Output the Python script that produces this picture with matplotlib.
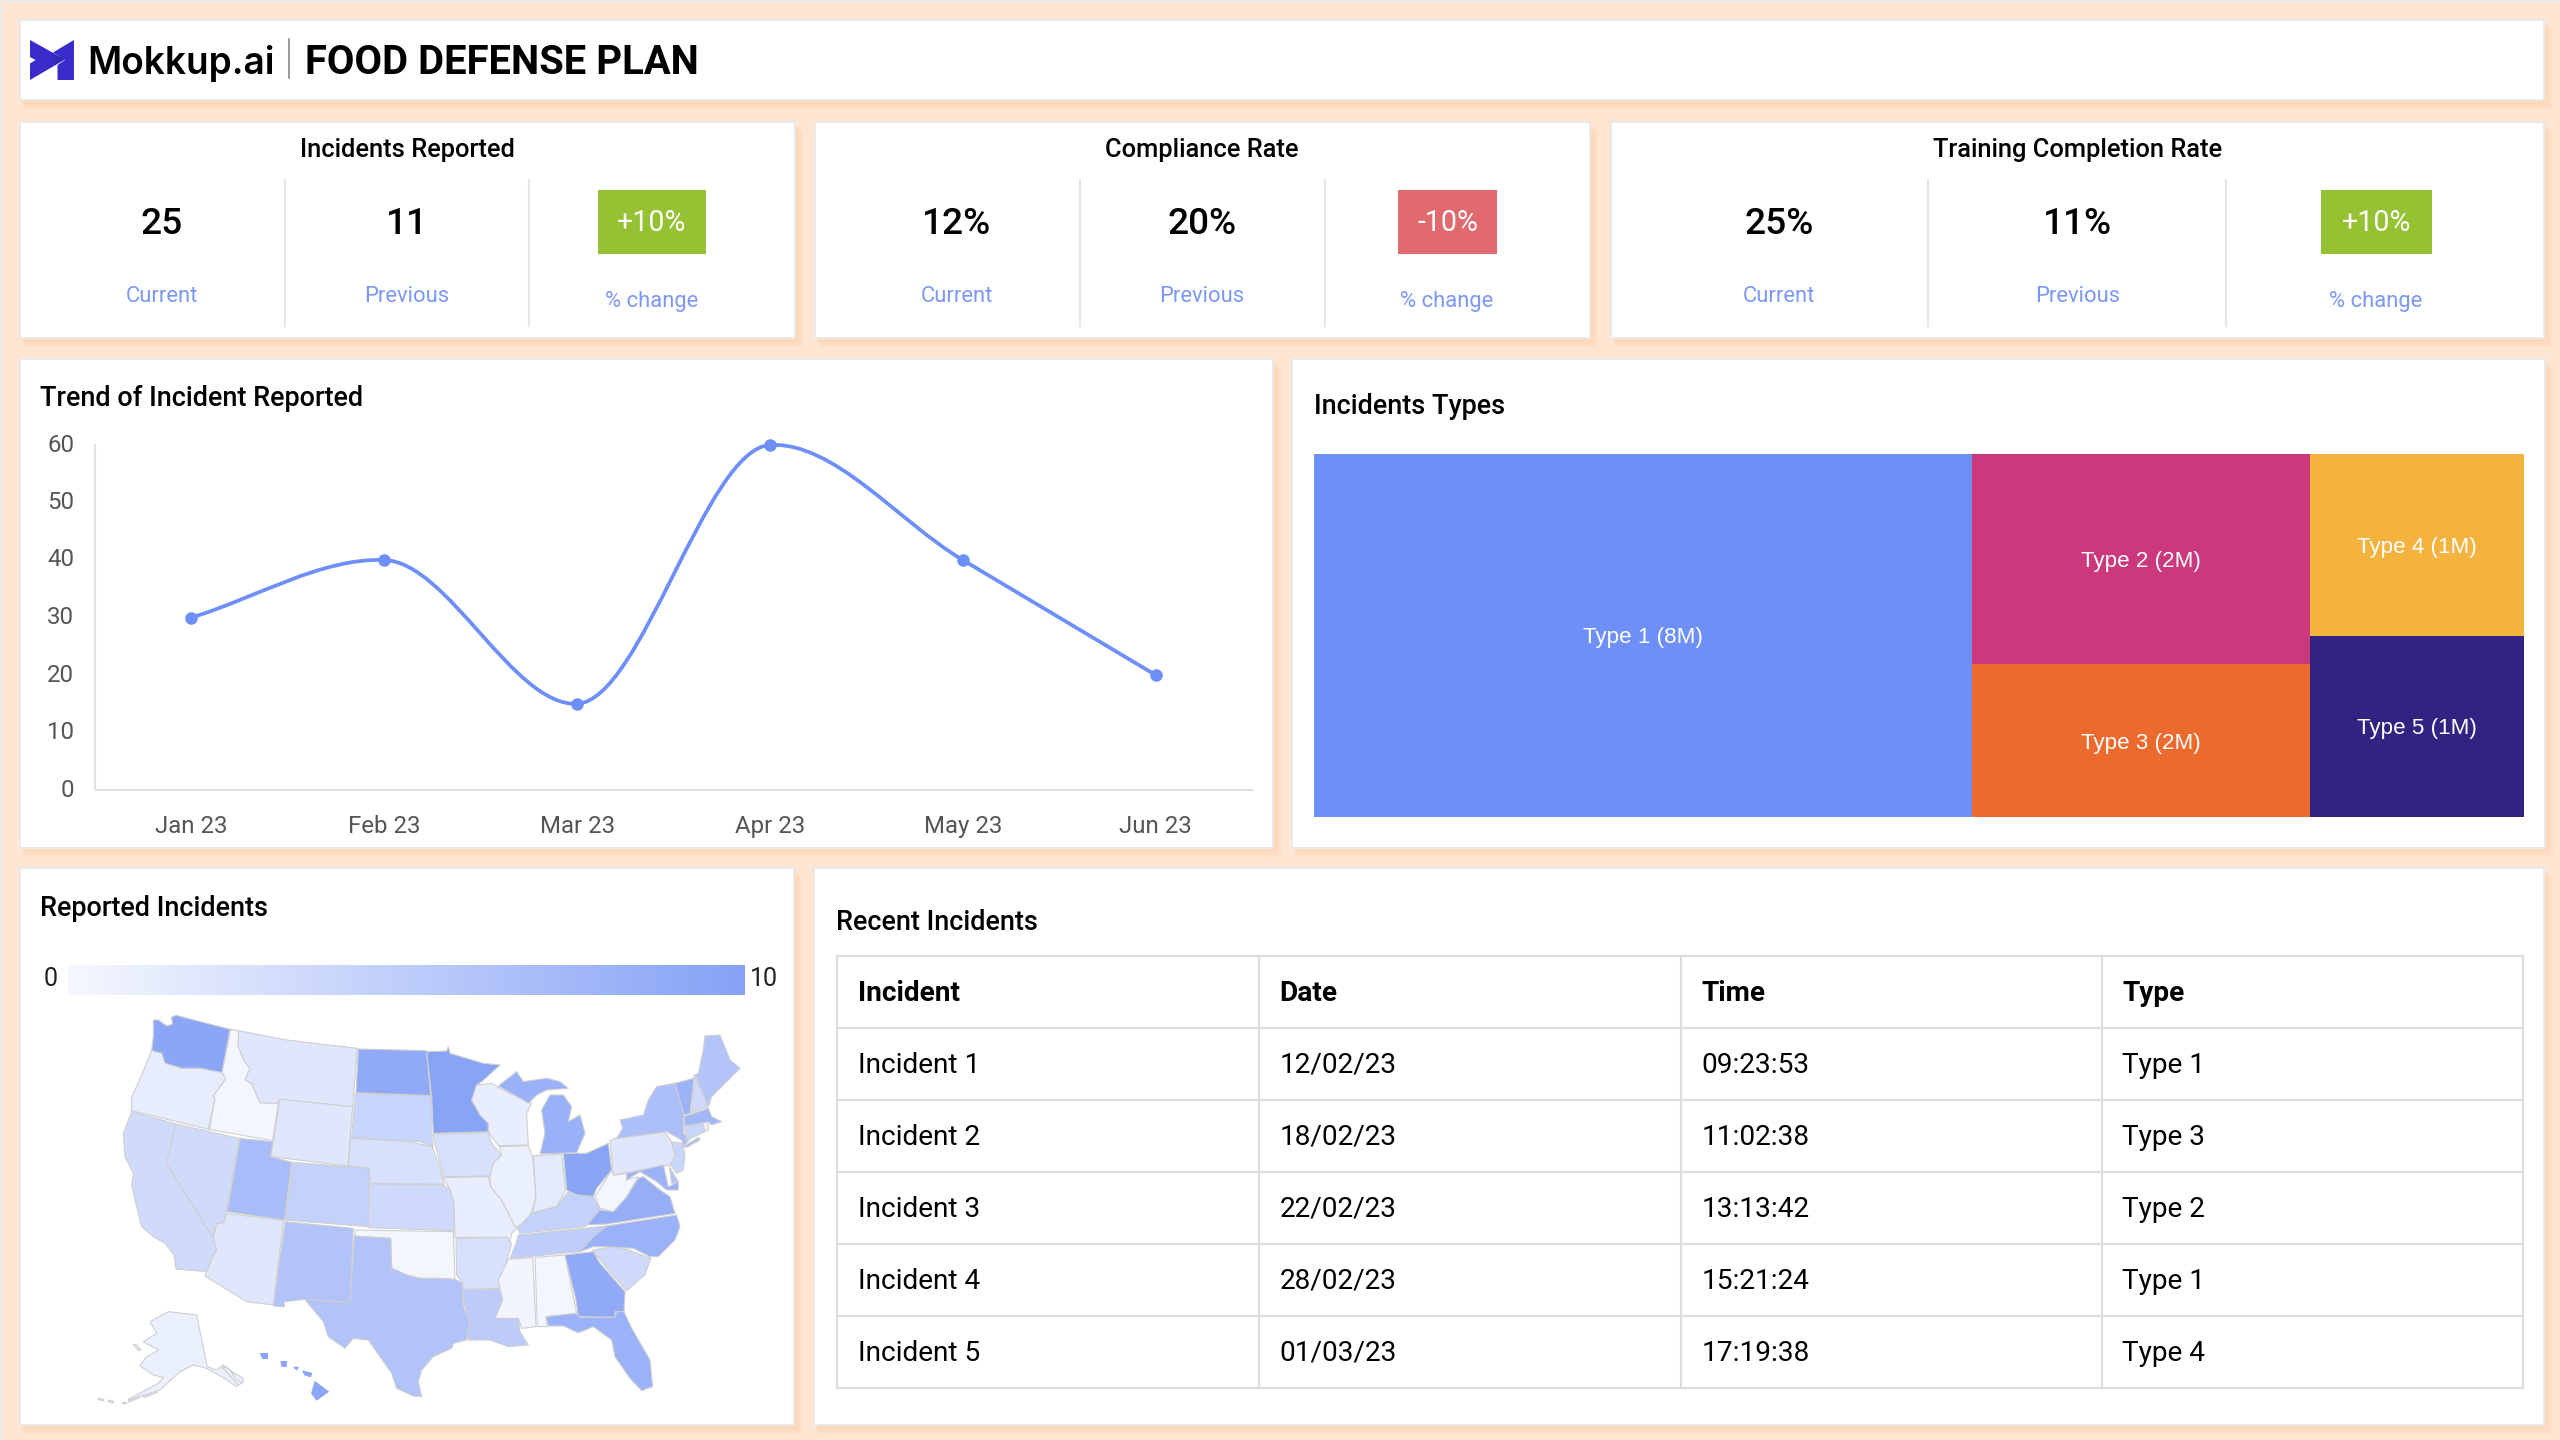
"""Food defense plan dashboard: KPI cards, trend line, treemap, state map and incident table."""
import numpy as np
import matplotlib
matplotlib.use("Agg")
import matplotlib.pyplot as plt
from matplotlib.colors import LinearSegmentedColormap
from matplotlib.patches import PathPatch, Polygon, Rectangle
from matplotlib.path import Path

plt.rcParams["font.family"] = ["Roboto", "DejaVu Sans"]

W, H = 2560, 1440
PAGE = "#FEE6D3"
SHADOW = "#FFCFAB"
BORDER = "#E9E9E9"
BLUE = "#6D8FF7"
LABEL_BLUE = "#7C98F6"
GREEN = "#95C133"
RED = "#E06A6E"
GRID = "#DDDDDD"

# KPI cards
KPI_TITLES = ["Incidents Reported", "Compliance Rate", "Training Completion Rate"]
KPI_CURRENT = ["25", "12%", "25%"]
KPI_PREVIOUS = ["11", "20%", "11%"]
KPI_CHANGE = ["+10%", "-10%", "+10%"]

# trend line
MONTHS = ["Jan 23", "Feb 23", "Mar 23", "Apr 23", "May 23", "Jun 23"]
INCIDENTS = [30, 40, 15, 60, 40, 20]

# treemap
TYPE_NAMES = ["Type 1", "Type 2", "Type 3", "Type 4", "Type 5"]
TYPE_SIZES = [8.0, 2.38, 1.73, 1.30, 1.30]
TYPE_COLORS = ["#6D8FF7", "#CB387C", "#EC6A2D", "#F4B33F", "#302381"]

# table
TABLE_HEADER = ["Incident", "Date", "Time", "Type"]
TABLE_INCIDENT = ["Incident 1", "Incident 2", "Incident 3", "Incident 4", "Incident 5"]
TABLE_DATE = ["12/02/23", "18/02/23", "22/02/23", "28/02/23", "01/03/23"]
TABLE_TIME = ["09:23:53", "11:02:38", "13:13:42", "15:21:24", "17:19:38"]
TABLE_TYPE = ["Type 1", "Type 3", "Type 2", "Type 1", "Type 4"]

# map values, 0 to 10
STATE_VALUES = {
    "WA": 9.5, "OR": 1.3, "ID": 0.3, "MT": 2.0, "WY": 2.0, "ND": 9.0, "SD": 4.2, "NE": 2.8, "CO": 4.5,
    "KS": 3.6, "UT": 7.0, "NV": 3.4, "CA": 3.4, "AZ": 2.0, "NM": 6.2, "OK": 0.3, "TX": 6.2, "MN": 9.8,
    "IA": 2.8, "MO": 1.2, "AR": 2.8, "LA": 5.2, "WI": 1.2, "IL": 1.0, "IN": 1.6, "OH": 9.6, "MIL": 8.3,
    "MIU": 8.3, "KY": 4.5, "TN": 5.0, "MS": 0.4, "AL": 0.3, "GA": 9.0, "FL": 8.2, "SC": 3.6, "NC": 8.2,
    "VA": 8.6, "WV": 0.3, "PA": 2.0, "NY": 6.6, "LI": 6.6, "MD": 8.0, "NJ": 4.0, "DE": 6.0, "CT": 4.0,
    "RI": 1.0, "MA": 7.5, "VT": 8.0, "NH": 3.6, "ME": 6.0, "AK": 1.0, "AKI": 1.0, "AK1": 1.0, "AK2": 1.0,
    "AK3": 1.0, "AK4": 1.0, "AK5": 1.0, "AK6": 1.0, "AK7": 1.0,
    "HI1": 9.5, "HI2": 9.5, "HI3": 9.5, "HI4": 9.5, "HI5": 9.5,
}

# state outlines in third-of-a-pixel units from the map origin
STATE_OUTLINES = {
    "WA": [(160,60),(175,60),(200,78),(218,72),(214,52),(228,46),(390,88),(366,218),(300,205),(245,205),(195,190),(185,160),(155,152),(160,110)],
    "OR": [(155,152),(185,160),(195,190),(245,205),(300,205),(366,218),(378,235),(340,288),(345,295),(325,388),(95,332),(95,292),(125,225)],
    "ID": [(392,88),(418,92),(414,135),(430,180),(450,205),(435,240),(455,250),(480,308),(535,310),(518,422),(328,388),(345,295),(340,288),(378,235),(366,218)],
    "MT": [(416,92),(560,120),(772,145),(758,320),(540,298),(532,310),(480,308),(455,250),(435,240),(450,205),(430,180),(414,135)],
    "WY": [(540,298),(758,320),(744,498),(512,470)],
    "ND": [(775,147),(980,152),(992,287),(768,278)],
    "SD": [(766,280),(995,288),(995,415),(1000,440),(960,425),(925,424),(755,413)],
    "NE": [(752,415),(925,424),(950,430),(997,440),(1015,490),(1032,553),(810,550),(808,505),(745,498)],
    "CO": [(578,487),(808,505),(805,680),(555,660)],
    "KS": [(808,552),(1030,555),(1050,570),(1062,605),(1062,692),(805,683)],
    "UT": [(420,415),(518,425),(512,470),(575,487),(553,660),(382,635)],
    "NV": [(228,372),(418,415),(378,640),(372,665),(345,672),(340,715),(198,490)],
    "CA": [(95,335),(228,372),(198,490),(340,715),(352,750),(335,770),(322,815),(228,807),(222,765),(195,730),(160,710),(125,680),(105,600),(95,555),(100,520),(75,470),(70,400)],
    "AZ": [(380,640),(550,662),(520,915),(440,905),(315,828),(330,790),(350,750),(340,710),(350,672),(372,668)],
    "NM": [(555,665),(760,685),(750,908),(615,898),(553,905),(553,920),(520,918)],
    "OK": [(765,690),(1060,695),(1065,838),(1010,835),(960,835),(920,825),(875,805),(872,715),(765,708)],
    "TX": [(763,708),(872,715),(875,805),(920,825),(960,835),(1010,835),(1065,838),(1088,850),(1090,920),(1110,970),(1100,1020),(1060,1030),(1055,1045),(1000,1070),(965,1110),(955,1145),(965,1190),(940,1188),(890,1165),(875,1120),(840,1070),(805,1020),(760,1015),(735,1045),(685,1010),(670,965),(620,905),(615,898),(750,908)],
    "MN": [(980,155),(1040,153),(1045,140),(1050,160),(1100,175),(1150,190),(1200,195),(1145,245),(1130,255),(1115,300),(1140,345),(1165,370),(1165,395),(1000,400),(995,290)],
    "IA": [(997,403),(1165,397),(1175,430),(1205,465),(1180,490),(1180,528),(1030,530),(1015,470)],
    "MO": [(1030,533),(1165,530),(1172,560),(1205,600),(1220,630),(1250,685),(1235,700),(1230,725),(1222,712),(1065,712),(1062,605),(1050,570)],
    "AR": [(1068,715),(1220,712),(1235,732),(1195,865),(1090,868),(1088,850),(1070,825)],
    "LA": [(1090,870),(1198,868),(1208,900),(1185,955),(1255,955),(1260,995),(1285,1035),(1225,1040),(1170,1020),(1105,1020),(1108,965),(1092,910)],
    "WI": [(1130,255),(1175,250),(1195,262),(1270,300),(1295,310),(1280,340),(1285,435),(1195,437),(1165,395),(1165,370),(1140,345),(1115,300)],
    "IL": [(1198,440),(1285,437),(1298,470),(1308,590),(1295,635),(1270,675),(1245,680),(1220,630),(1205,600),(1172,560),(1170,530),(1180,490),(1205,465)],
    "IN": [(1300,468),(1385,462),(1397,570),(1370,620),(1330,630),(1298,638),(1308,590)],
    "OH": [(1390,460),(1460,460),(1525,430),(1535,510),(1490,565),(1480,590),(1430,585),(1400,570)],
    "MIL": [(1320,462),(1335,400),(1325,330),(1350,285),(1390,285),(1415,320),(1405,365),(1440,345),(1455,400),(1430,458)],
    "MIU": [(1195,258),(1250,215),(1270,245),(1340,235),(1380,245),(1405,265),(1340,270),(1310,285),(1285,310),(1270,300)],
    "KY": [(1405,575),(1430,585),(1480,590),(1500,630),(1455,680),(1260,700),(1252,685),(1295,640),(1330,630),(1370,620)],
    "TN": [(1255,705),(1520,678),(1475,715),(1440,755),(1230,775),(1250,725)],
    "MS": [(1225,778),(1298,772),(1308,980),(1265,985),(1255,955),(1185,955),(1208,900),(1195,840)],
    "AL": [(1305,772),(1395,765),(1430,940),(1338,950),(1342,980),(1312,980)],
    "GA": [(1395,765),(1480,755),(1500,790),(1575,875),(1572,935),(1545,935),(1545,952),(1435,950),(1428,900)],
    "FL": [(1338,950),(1430,940),(1440,952),(1545,952),(1550,935),(1572,935),(1595,985),(1650,1080),(1658,1160),(1625,1172),(1590,1135),(1545,1070),(1535,1020),(1480,980),(1435,998),(1390,978),(1345,978)],
    "SC": [(1478,750),(1540,740),(1580,748),(1652,775),(1635,825),(1580,872),(1520,805)],
    "NC": [(1520,678),(1730,645),(1740,680),(1725,720),(1675,770),(1650,770),(1600,745),(1520,740),(1480,740),(1440,755),(1475,715)],
    "VA": [(1460,675),(1500,630),(1540,635),(1580,590),(1615,535),(1630,530),(1680,570),(1710,590),(1725,640),(1520,672)],
    "WV": [(1485,590),(1535,510),(1540,525),(1580,520),(1580,540),(1615,530),(1580,590),(1540,635),(1500,625)],
    "PA": [(1530,422),(1545,415),(1695,397),(1715,425),(1725,470),(1710,495),(1540,525)],
    "NY": [(1550,415),(1568,385),(1560,360),(1630,345),(1645,300),(1670,260),(1725,250),(1750,320),(1752,405),(1780,405),(1750,440),(1745,420),(1700,395)],
    "LI": [(1750,440),(1795,412),(1800,420),(1760,442)],
    "MD": [(1580,520),(1690,495),(1705,560),(1735,545),(1735,570),(1700,570),(1670,545),(1620,515),(1580,540)],
    "NJ": [(1715,425),(1745,430),(1755,460),(1750,510),(1730,520),(1712,495),(1725,465)],
    "DE": [(1708,500),(1735,545),(1715,550)],
    "CT": [(1755,378),(1808,368),(1815,395),(1760,420)],
    "RI": [(1808,368),(1825,365),(1825,390),(1815,395)],
    "MA": [(1752,350),(1825,325),(1835,350),(1865,365),(1835,375),(1825,365),(1755,378)],
    "VT": [(1725,250),(1782,235),(1770,340),(1752,345)],
    "NH": [(1782,225),(1825,320),(1775,338)],
    "ME": [(1795,220),(1810,150),(1815,108),(1860,105),(1890,180),(1920,205),(1870,255),(1835,290),(1825,320),(1785,225)],
    "AK": [(150,965),(205,935),(290,945),(322,1100),(350,1110),(370,1095),(430,1140),(410,1160),(365,1130),(320,1105),(280,1095),(240,1115),(180,1170),(90,1200),(85,1198),(175,1150),(190,1132),(160,1125),(120,1098),(135,1075),(175,1050),(130,1025),(170,1000)],
    "AKI": [(100,1035),(108,1033),(122,1048),(116,1052)],
    "AK1": [(-5,1195),(10,1198),(10,1202),(-5,1199)],
    "AK2": [(25,1200),(40,1204),(40,1209),(25,1205)],
    "AK3": [(65,1205),(78,1205),(78,1208),(65,1208)],
    "AK4": [(85,1202),(115,1190),(117,1194),(87,1206)],
    "AK5": [(130,1188),(170,1173),(172,1178),(133,1192)],
    "AK6": [(365,1100),(385,1105),(425,1150),(415,1155)],
    "AK7": [(395,1115),(430,1135),(428,1150),(405,1135)],
    "HI1": [(480,1060),(500,1060),(500,1073),(485,1073)],
    "HI2": [(543,1085),(560,1085),(558,1100),(545,1098)],
    "HI3": [(582,1102),(595,1102),(590,1110)],
    "HI4": [(608,1113),(635,1120),(632,1130),(615,1125)],
    "HI5": [(645,1145),(685,1175),(650,1200),(635,1180)],
}
MAP_ORIGIN = (100, 1000)

fig = plt.figure(figsize=(W / 100, H / 100), dpi=100, facecolor=PAGE)
canvas = fig.add_axes([0, 0, 1, 1])
canvas.set_xlim(0, W)
canvas.set_ylim(H, 0)
canvas.axis("off")


def px(size):
    return size * 0.72


def px_axes(x0, y0, x1, y1):
    ax = fig.add_axes([x0 / W, 1 - y1 / H, (x1 - x0) / W, (y1 - y0) / H])
    ax.patch.set_alpha(0)
    return ax


def card(x0, y0, x1, y1):
    # soft orange shadow, stacked from wide to narrow
    for off, alpha in ((9, 0.22), (7, 0.28), (4, 0.32)):
        canvas.add_patch(Rectangle((x0 + off // 2, y0 + off), x1 - x0 + off // 2, y1 - y0, fc=SHADOW, ec="none", alpha=alpha, zorder=1))
    canvas.add_patch(Rectangle((x0, y0), x1 - x0, y1 - y0, fc="white", ec=BORDER, lw=1.4, zorder=2))


def label(x, y, s, size, color="black", ha="center", weight="normal", **kw):
    canvas.text(x, y, s, fontsize=px(size), color=color, ha=ha, va="center_baseline", fontweight=weight, zorder=5, **kw)


canvas.plot([0, W], [1, 1], color=BORDER, lw=1.5, zorder=0)
canvas.plot([1, 1], [0, H], color=BORDER, lw=1.5, zorder=0)

# header
card(20, 20, 2544, 100)
logo = px_axes(30, 40, 74, 80)
logo.axis("off")
logo_cmap = LinearSegmentedColormap.from_list("logo", ["#3A2BCB", "#3A2BCB", "#1D2A7C"])
for pts in ([(30, 40), (65, 59.5), (30, 80), (30, 63.5), (35.5, 60), (30, 57)],
            [(74, 40), (74, 80), (57.5, 80), (57.5, 65), (65, 60), (53, 52.5)]):
    clip = Polygon(pts, closed=True, transform=canvas.transData, fc="none", ec="none")
    canvas.add_patch(clip)
    img = logo.imshow(np.linspace(0, 1, 64).reshape(1, -1) if pts[0][0] == 30 else np.zeros((1, 2)),
                      cmap=logo_cmap, vmin=0, vmax=1, aspect="auto", extent=(0, 1, 0, 1))
    img.set_clip_path(clip)
label(87, 60, "Mokkup.ai", 37, ha="left", weight="semibold", family=["Inter", "DejaVu Sans"])
canvas.plot([289, 289], [39, 78], color="#8A8A8A", lw=1.2, zorder=5)
label(305, 59, "FOOD DEFENSE PLAN", 40, ha="left", weight="bold")

# KPI row
card_bounds = [(20, 795), (815, 1590), (1611, 2544)]
col_centers = [(162, 407, 652), (957, 1202, 1447), (1779, 2078, 2376)]
dividers = [(285, 529), (1080, 1325), (1928, 2226)]
badge_bounds = [(598, 706), (1398, 1497), (2321, 2432)]
for i in range(3):
    card(card_bounds[i][0], 122, card_bounds[i][1], 338)
    c0, c1, c2 = col_centers[i]
    label(c1, 148, KPI_TITLES[i], 25.5, weight="medium")
    label(c0, 221, KPI_CURRENT[i], 37, weight="medium")
    label(c1, 221, KPI_PREVIOUS[i], 37, weight="medium")
    label(c0, 294, "Current", 22, color=LABEL_BLUE)
    label(c1, 294, "Previous", 22, color=LABEL_BLUE)
    label(c2, 298.5, "% change", 22, color=LABEL_BLUE)
    for d in dividers[i]:
        canvas.plot([d, d], [180, 326], color="#E6E6E6", lw=1.5, zorder=5)
    bx0, bx1 = badge_bounds[i]
    badge = GREEN if KPI_CHANGE[i].startswith("+") else RED
    canvas.add_patch(Rectangle((bx0, 190), bx1 - bx0, 64, fc=badge, ec="none", zorder=4))
    label((bx0 + bx1) / 2, 220, KPI_CHANGE[i], 28.5, color="white")

# trend chart
card(20, 359, 1273, 848)
label(40, 395, "Trend of Incident Reported", 27, ha="left", weight="medium")
line_ax = px_axes(95, 445, 1252, 790)
xs = np.arange(len(INCIDENTS), dtype=float)
ys = np.array(INCIDENTS, dtype=float)
# bezier tangents, flattened at the local peaks and troughs
tang = np.zeros(len(ys))
tang[0] = ys[1] - ys[0]
tang[-1] = ys[-1] - ys[-2]
for k in range(1, len(ys) - 1):
    tang[k] = (ys[k + 1] - ys[k - 1]) / 2
    if (ys[k] - ys[k - 1]) * (ys[k + 1] - ys[k]) < 0:
        tang[k] *= 0.15
verts = [(xs[0], ys[0])]
codes = [Path.MOVETO]
for k in range(len(ys) - 1):
    verts += [(xs[k] + 1 / 3, ys[k] + tang[k] / 3), (xs[k + 1] - 1 / 3, ys[k + 1] - tang[k + 1] / 3), (xs[k + 1], ys[k + 1])]
    codes += [Path.CURVE4] * 3
line_ax.add_patch(PathPatch(Path(verts, codes), fc="none", ec=BLUE, lw=2.7, capstyle="round", clip_on=False))
line_ax.plot(xs, ys, ls="none", marker="o", ms=8, color=BLUE, clip_on=False)
line_ax.set_xlim(-0.5, 5.5)
line_ax.set_ylim(0, 60)
line_ax.set_xticks(xs)
line_ax.set_xticklabels(MONTHS)
line_ax.set_yticks(range(0, 61, 10))
line_ax.tick_params(axis="x", length=0, pad=18, labelsize=px(24), labelcolor="#555555")
line_ax.tick_params(axis="y", length=0, pad=15, labelsize=px(24), labelcolor="#555555")
for t in line_ax.get_yticklabels():
    t.set_va("center")
for side in ("top", "right"):
    line_ax.spines[side].set_visible(False)
for side in ("left", "bottom"):
    line_ax.spines[side].set_color("#E2E2E2")
    line_ax.spines[side].set_linewidth(1.5)

# treemap
card(1292, 359, 2545, 848)
label(1314, 404, "Incidents Types", 27, ha="left", weight="medium")
tree = px_axes(1314, 454, 2524, 817)
tree.axis("off")
tree.set_xlim(0, 1)
tree.set_ylim(1, 0)
total = sum(TYPE_SIZES)
col2 = TYPE_SIZES[1] + TYPE_SIZES[2]
col3 = TYPE_SIZES[3] + TYPE_SIZES[4]
w1, w2, w3 = TYPE_SIZES[0] / total, col2 / total, col3 / total
rects = [
    (0, 0, w1, 1),
    (w1, 0, w2, TYPE_SIZES[1] / col2),
    (w1, TYPE_SIZES[1] / col2, w2, TYPE_SIZES[2] / col2),
    (w1 + w2, 0, w3, TYPE_SIZES[3] / col3),
    (w1 + w2, TYPE_SIZES[3] / col3, w3, TYPE_SIZES[4] / col3),
]
for (rx, ry, rw, rh), name, size, color in zip(rects, TYPE_NAMES, TYPE_SIZES, TYPE_COLORS):
    tree.add_patch(Rectangle((rx, ry), rw, rh, fc=color, ec="none"))
    tree.text(rx + rw / 2, ry + rh / 2, f"{name} ({round(size)}M)", color="white", fontsize=px(22.4),
              ha="center", va="center_baseline", family=["Liberation Sans", "DejaVu Sans"])

# state map
card(20, 868, 794, 1425)
label(40, 905, "Reported Incidents", 27, ha="left", weight="medium")
scale = LinearSegmentedColormap.from_list("incidents", ["#F6F8FF", "#86A2F6"])
bar = px_axes(68, 965, 745, 995)
bar.imshow(np.linspace(0, 10, 256).reshape(1, -1), cmap=scale, vmin=0, vmax=10, aspect="auto")
bar.axis("off")
label(51, 977, "0", 25, color="#222222")
label(750, 977, "10", 25, color="#222222", ha="left")
for code, outline in STATE_OUTLINES.items():
    pts = [(MAP_ORIGIN[0] + x / 3, MAP_ORIGIN[1] + y / 3) for x, y in outline]
    edge = scale(STATE_VALUES[code] / 10) if code.startswith("HI") else "#CFCFCF"
    canvas.add_patch(Polygon(pts, closed=True, fc=scale(STATE_VALUES[code] / 10), ec=edge, lw=0.8, joinstyle="round", zorder=4))

# incident table
card(814, 868, 2544, 1425)
label(836, 919, "Recent Incidents", 27, ha="left", weight="medium")
col_x = [837, 1259, 1681, 2102, 2523]
row_y = [956, 1028, 1100, 1172, 1244, 1316, 1388]
for x in col_x:
    canvas.plot([x, x], [row_y[0], row_y[-1]], color=GRID, lw=1.5, zorder=5)
for y in row_y:
    canvas.plot([col_x[0], col_x[-1]], [y, y], color=GRID, lw=1.5, zorder=5)
columns = [TABLE_INCIDENT, TABLE_DATE, TABLE_TIME, TABLE_TYPE]
for c, column in enumerate(columns):
    tx = col_x[c] + 20.5
    label(tx, (row_y[0] + row_y[1]) / 2 - 1.5, TABLE_HEADER[c], 28, ha="left", weight="bold")
    for r, cell in enumerate(column):
        label(tx, (row_y[r + 1] + row_y[r + 2]) / 2 - 1.5, cell, 28, ha="left")

fig.savefig("out.png", dpi=100, facecolor=PAGE)
